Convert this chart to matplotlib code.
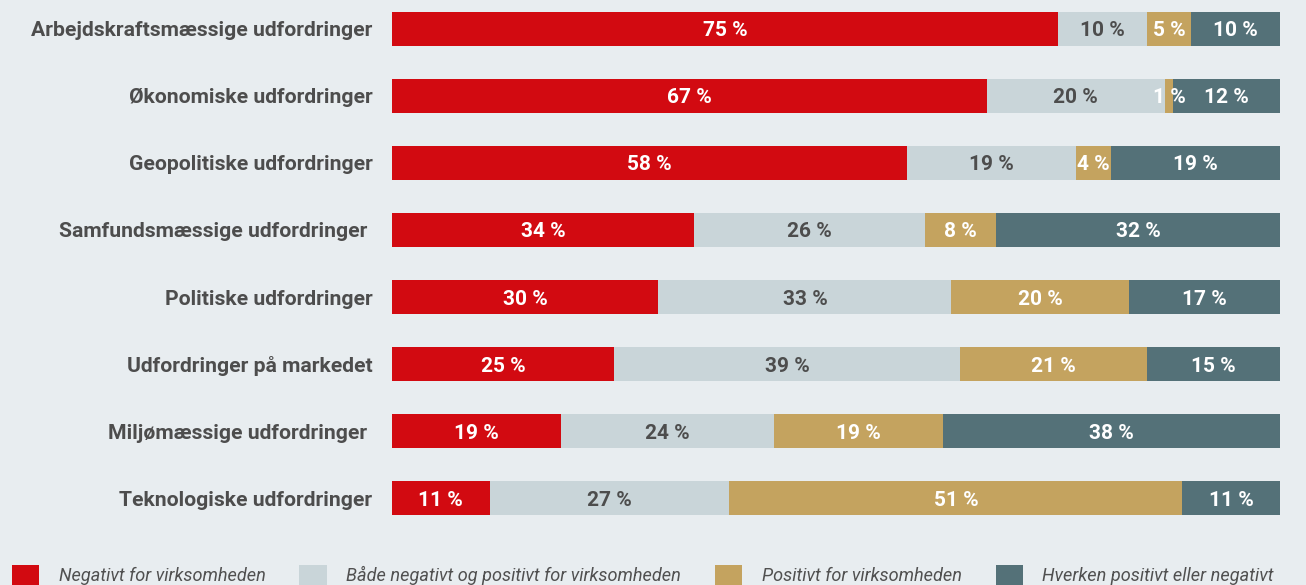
import numpy as np
import matplotlib.pyplot as plt

categories = ['Arbejdskraftsmæssige udfordringer', 'Økonomiske udfordringer',
              'Geopolitiske udfordringer', 'Samfundsmæssige udfordringer ',
              'Politiske udfordringer', 'Udfordringer på markedet',
              'Miljømæssige udfordringer ', 'Teknologiske udfordringer']
negativ = [75, 67, 58, 34, 30, 25, 19, 11]
begge = [10, 20, 19, 26, 33, 39, 24, 27]
positiv = [5, 1, 4, 8, 20, 21, 19, 51]
hverken = [10, 12, 19, 32, 17, 15, 38, 11]

series = ['Negativt for virksomheden', 'Både negativt og positivt for virksomheden',
          'Positivt for virksomheden', 'Hverken positivt eller negativt']
colors = ['#d20a11', '#c9d5d9', '#c4a35f', '#547178']
text_colors = ['white', '#4d4d4d', 'white', 'white']

bg = '#e8edf0'
plt.rcParams['font.family'] = ['Roboto', 'DejaVu Sans']

fig = plt.figure(figsize=(13.06, 5.85), dpi=100, facecolor=bg)
ax = fig.add_axes([392 / 1306, 1 - 515 / 585, 888 / 1306, 503 / 585])
ax.set_facecolor(bg)

y = np.arange(len(categories))
left = np.zeros(len(categories))
for vals, col, tc, name in zip([negativ, begge, positiv, hverken], colors, text_colors, series):
    vals = np.array(vals)
    ax.barh(y, vals, left=left, height=0.5, color=col, label=name)
    for yi, l, v in zip(y, left, vals):
        ax.text(l + v / 2, yi, f'{v} %', ha='center', va='center_baseline', color=tc,
                fontsize=15, fontweight='bold')
    left += vals

ax.set_xlim(0, 100)
ax.set_ylim(len(categories) - 0.75, -0.25)
ax.set_yticks(y)
ax.set_yticklabels(categories, fontsize=15.2, fontweight='bold', color='#4d4d4d')
ax.tick_params(axis='y', length=0, pad=14)
ax.set_xticks([])
for s in ax.spines.values():
    s.set_visible(False)

fs = 13.1
fig.legend(loc='center left', bbox_to_anchor=(12 / 1306, 1 - 575 / 585), ncol=4,
           frameon=False, prop={'style': 'italic', 'size': fs},
           handlelength=1.49, handleheight=1.27, handletextpad=1.09,
           columnspacing=1.85, borderpad=0, borderaxespad=0, labelcolor='#505050')

fig.savefig('out.png', dpi=100, facecolor=bg)
